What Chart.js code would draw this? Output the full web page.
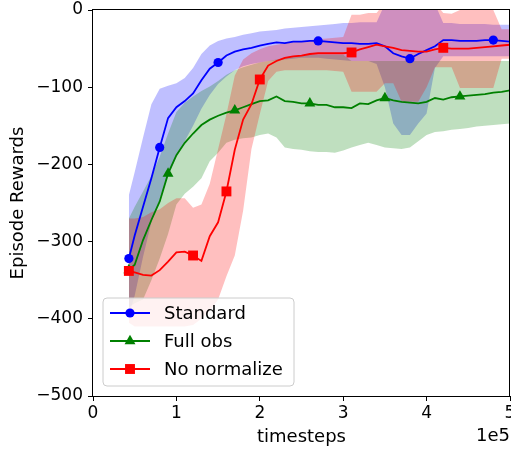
<!DOCTYPE html>
<html>
<head>
<meta charset="utf-8">
<script src="https://cdn.jsdelivr.net/npm/chart.js@4/dist/chart.umd.min.js"></script>
<style>
  html, body { margin: 0; padding: 0; background: #fff; }
  #wrap { width: 511px; height: 450px; }
</style>
</head>
<body>
<div id="wrap"><canvas id="myChart" width="511" height="450"></canvas></div>
<script>
// timesteps (x axis)
var steps = [43000, 50000, 60000, 70000, 80000, 90000, 100000, 110000, 120000, 130000,
  140000, 150000, 160000, 170000, 180000, 190000, 200000, 210000, 220000, 230000,
  240000, 250000, 260000, 270000, 280000, 290000, 300000, 310000, 320000, 330000,
  340000, 350000, 360000, 370000, 380000, 390000, 400000, 410000, 420000, 430000,
  440000, 450000, 460000, 470000, 480000, 490000, 500000]

var labels = ["Standard", "Full obs", "No normalize"]

// Standard
var stdMean = [-322, -292, -255, -218, -178, -140, -126, -118, -108, -91,
  -76, -68, -59, -54, -51, -49, -46, -44, -42, -43,
  -41, -41, -40, -40, -41, -42, -43, -43, -44, -44,
  -43, -47, -56, -60, -63, -57, -52, -47, -39, -39,
  -40, -40, -40, -39, -39, -40, -41]
var stdHigh = [-240, -210, -165, -122, -102, -98, -95, -88, -75, -57,
  -46, -40, -37, -35, -32, -30, -28, -27, -26, -24,
  -23, -22, -21, -20, -19, -18, -17, -17, -16, -16,
  -16, 8, 8, 8, 8, 8, 8, 8, -17, -17,
  -18, -18, -18, -18, -19, -19, -19]
var stdLow = [-395, -370, -320, -275, -245, -215, -190, -170, -150, -128,
  -110, -96, -86, -78, -73, -70, -68, -66, -65, -64,
  -63, -62, -62, -62, -63, -64, -65, -66, -66, -66,
  -70, -100, -147, -162, -162, -147, -134, -75, -60, -60,
  -60, -60, -60, -60, -60, -60, -60]
var stdMarks = [0, 4, 11, 23, 34, 44]

// Full obs
var fullMean = [-337, -330, -298, -272, -248, -212, -188, -172, -160, -149,
  -142, -137, -133, -130, -126, -122, -118, -117, -112, -118,
  -119, -121, -121, -123, -123, -126, -126, -127, -121, -122,
  -117, -114, -117, -119, -120, -121, -119, -114, -116, -113,
  -112, -111, -110, -109, -107, -106, -104]
var fullHigh = [-270, -255, -235, -215, -190, -160, -132, -120, -112, -105,
  -99, -92, -84, -78, -74, -71, -68, -66, -64, -62,
  -60, -59, -58, -58, -58, -58, -58, -66, -66, -66,
  -66, -66, -66, -66, -66, -66, -66, -66, -66, -66,
  -66, -66, -66, -66, -66, -66, -66]
var fullLow = [-385, -380, -375, -350, -322, -290, -252, -238, -229, -218,
  -196, -185, -172, -168, -166, -165, -162, -160, -165, -178,
  -180, -181, -183, -184, -184, -185, -182, -178, -175, -172,
  -175, -178, -179, -180, -178, -170, -162, -158, -157, -155,
  -154, -153, -151, -150, -149, -148, -147]
var fullMarks = [0, 5, 13, 22, 31, 40]

// No normalize
var noNormMean = [-338, -340, -343, -344, -337, -326, -314, -313, -318, -325,
  -293, -275, -235, -181, -142, -122, -90, -72, -66, -62,
  -60, -59, -57, -56, -56, -56, -56, -55, -51, -48,
  -45, -47, -49, -52, -53, -54, -54, -51, -49, -50,
  -50, -50, -49, -48, -47, -46, -45]
var noNormHigh = [-270, -270, -268, -262, -258, -250, -244, -244, -256, -252,
  -225, -180, -135, -85, -64, -56, -51, -47, -45, -43,
  -41, -40, -39, -38, -37, -36, -35, -6, -6, -4,
  -4, 10, 10, 10, 10, 10, 10, 10, -4, -5,
  0, 0, 0, 0, 0, -25, -25]
var noNormLow = [-405, -410, -410, -410, -410, -410, -410, -410, -408, -400,
  -390, -375, -345, -318, -260, -180, -135, -92, -80, -78,
  -78, -78, -78, -78, -78, -79, -80, -106, -106, -106,
  -106, -95, -95, -119, -119, -119, -100, -74, -74, -74,
  -101, -101, -101, -101, -101, -63, -63]
var noNormMarks = [0, 8, 12, 16, 27, 38]

var yTicks = [0, -100, -200, -300, -400, -500]

var FONT = "'DejaVu Sans', sans-serif"

function pts(ys) {
    var out = []
    for (var i = 0; i < steps.length; i++) out.push({ x: steps[i], y: ys[i] })
    return out
}

function band(low, high, fillColor, order) {
    return [
        { data: pts(low), borderWidth: 0, pointRadius: 0, fill: false, order: order, clip: 0, isBand: true },
        { data: pts(high), borderWidth: 0, pointRadius: 0, fill: '-1', backgroundColor: fillColor, order: order, clip: 0, isBand: true }
    ]
}

function line(label, ys, color, style, radius, marks, order) {
    return {
        label: label,
        data: pts(ys),
        borderColor: color,
        backgroundColor: color,
        borderWidth: 1.8,
        fill: false,
        pointStyle: style,
        pointBackgroundColor: color,
        pointBorderColor: color,
        pointBorderWidth: 0,
        pointRadius: function (c) { return marks.indexOf(c.dataIndex) >= 0 ? radius : 0 },
        order: order,
        clip: 0,
        markRadius: radius
    }
}

var datasets = []
    .concat(band(stdLow, stdHigh, 'rgba(0,0,255,0.25)', 5))
    .concat(band(fullLow, fullHigh, 'rgba(0,128,0,0.25)', 4))
    .concat(band(noNormLow, noNormHigh, 'rgba(255,0,0,0.25)', 3))
datasets.push(line(labels[0], stdMean, '#0000ff', 'circle', 4.6, stdMarks, 2))
datasets.push(line(labels[1], fullMean, '#008000', 'triangle', 6.3, fullMarks, 1))
datasets.push(line(labels[2], noNormMean, '#ff0000', 'rect', 7, noNormMarks, 0))

// frame, "1e5" offset text and matplotlib-like legend
var extras = {
    id: 'extras',
    afterDraw: function (chart) {
        var ctx = chart.ctx
        var a = chart.chartArea
        ctx.save()
        ctx.strokeStyle = '#000'
        ctx.lineWidth = 1
        ctx.strokeRect(a.left - 0.5, a.top - 0.5, a.right - a.left, a.bottom - a.top + 1)

        ctx.fillStyle = '#000'
        ctx.font = '18px ' + FONT
        ctx.textAlign = 'right'
        ctx.textBaseline = 'alphabetic'
        ctx.fillText('1e5', a.right, 441)

        // legend box
        var lx = 103, ly = 298, lw = 191, lh = 88, r = 4
        ctx.beginPath()
        ctx.moveTo(lx + r, ly)
        ctx.arcTo(lx + lw, ly, lx + lw, ly + lh, r)
        ctx.arcTo(lx + lw, ly + lh, lx, ly + lh, r)
        ctx.arcTo(lx, ly + lh, lx, ly, r)
        ctx.arcTo(lx, ly, lx + lw, ly, r)
        ctx.closePath()
        ctx.fillStyle = 'rgba(255,255,255,0.8)'
        ctx.fill()
        ctx.strokeStyle = '#cccccc'
        ctx.stroke()

        var lines = chart.data.datasets.filter(function (d) { return !d.isBand })
        lines.forEach(function (d, i) {
            var y = 313 + i * 28
            ctx.strokeStyle = d.borderColor
            ctx.lineWidth = 1.8
            ctx.beginPath()
            ctx.moveTo(110, y)
            ctx.lineTo(150, y)
            ctx.stroke()
            ctx.beginPath()
            ctx.fillStyle = d.borderColor
            Chart.helpers.drawPoint(ctx, { pointStyle: d.pointStyle, rotation: 0, borderWidth: 0, radius: d.markRadius }, 130, y)
            ctx.fillStyle = '#000'
            ctx.font = '18px ' + FONT
            ctx.textAlign = 'left'
            ctx.textBaseline = 'middle'
            ctx.fillText(d.label, 164, y + 1)
        })
        ctx.restore()
    }
}

var myChart = document.getElementById("myChart").getContext('2d')

var chart = new Chart(myChart, {
    type: 'line',
    data: { datasets: datasets },
    options: {
        responsive: false,
        animation: false,
        events: [],
        layout: { autoPadding: false, padding: { top: 10, right: 1, left: 0, bottom: 0 } },
        plugins: {
            legend: { display: false },
            tooltip: { enabled: false },
            filler: { propagate: false }
        },
        scales: {
            x: {
                type: 'linear',
                min: 0,
                max: 500000,
                afterFit: function (s) { s.height = 54; s.paddingLeft = 0; s.paddingRight = 0 },
                grid: { display: true, drawOnChartArea: false, drawTicks: true, tickLength: 5, color: '#000' },
                border: { display: false },
                ticks: {
                    stepSize: 100000,
                    padding: 2,
                    maxRotation: 0,
                    color: '#000',
                    font: { family: FONT, size: 17 },
                    callback: function (v) { return String(v / 100000) }
                },
                title: {
                    display: true,
                    text: 'timesteps',
                    color: '#000',
                    font: { family: FONT, size: 18 },
                    padding: { top: 0, bottom: 2 }
                }
            },
            y: {
                min: -500,
                max: 0,
                afterFit: function (s) { s.width = 93; s.paddingTop = 0; s.paddingBottom = 0 },
                grid: { display: true, drawOnChartArea: false, drawTicks: true, tickLength: 5, color: '#000' },
                border: { display: false },
                afterBuildTicks: function (s) { s.ticks = yTicks.map(function (v) { return { value: v } }) },
                ticks: {
                    padding: 5,
                    color: '#000',
                    font: { family: FONT, size: 17 },
                    callback: function (v) { return v === 0 ? '0' : '\u2212' + Math.abs(v) }
                },
                title: {
                    display: true,
                    text: 'Episode Rewards',
                    color: '#000',
                    font: { family: FONT, size: 18 },
                    padding: { top: 8, bottom: 0 }
                }
            }
        }
    },
    plugins: [extras]
})
</script>
</body>
</html>
